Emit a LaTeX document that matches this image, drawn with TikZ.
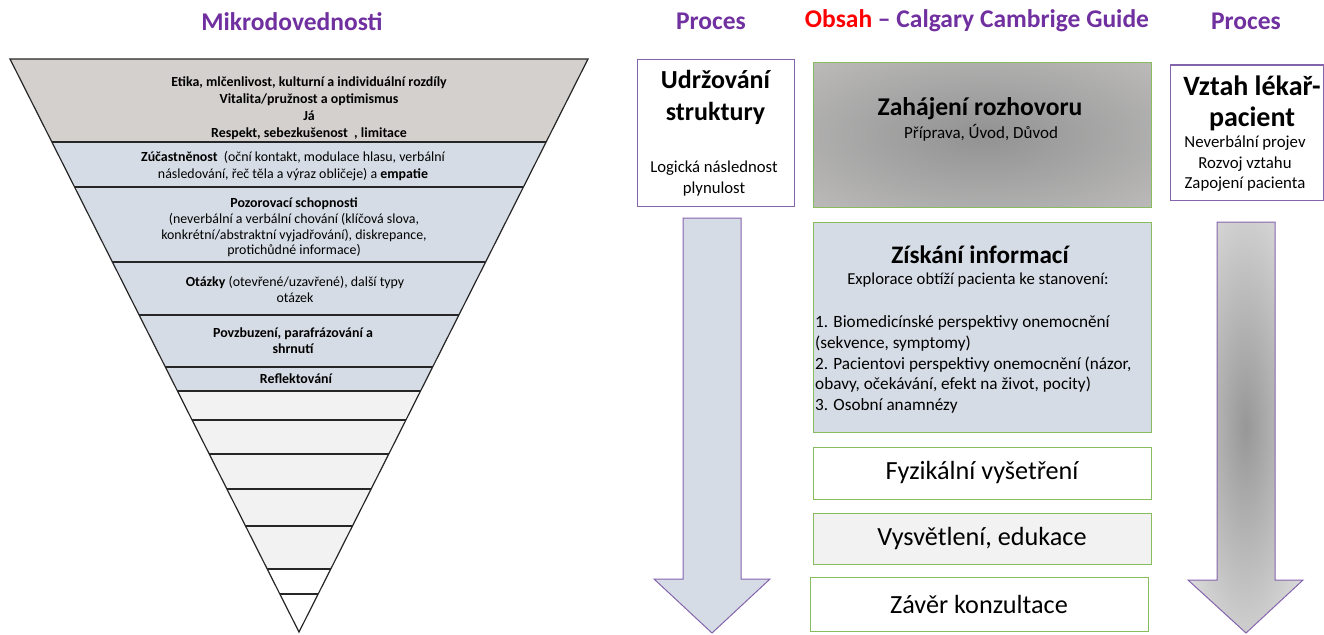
\documentclass[tikz,border=0pt]{standalone}
\usepackage{fontspec}
\setmainfont{Carlito}
\usetikzlibrary{positioning,calc}
\definecolor{headpurple}{HTML}{7030A0}
\definecolor{linepurple}{HTML}{8564AE}
\definecolor{linegreen}{HTML}{88BC5C}
\definecolor{bluegray}{HTML}{D6DCE5}
\definecolor{warmgray}{HTML}{D3D0CE}
\definecolor{lightgray}{HTML}{F2F2F2}
\definecolor{glowin}{HTML}{929292}
\definecolor{glowout}{HTML}{D2D0CF}
\definecolor{arrowin}{HTML}{979797}
\pgfdeclareradialshading{boxglow}{\pgfpoint{0bp}{0bp}}{color(0bp)=(glowin); color(55bp)=(glowout); color(80bp)=(glowout)}
\pgfdeclareradialshading{arrowglow}{\pgfpoint{0bp}{0bp}}{color(0bp)=(arrowin); color(47bp)=(white); color(80bp)=(white)}

\begin{document}
\begin{tikzpicture}[
  x=1pt, y=-1pt,
  head/.style={font=\fontsize{25.5}{30}\selectfont\bfseries, text=headpurple},
  band/.style={align=center, inner sep=0pt, font=\fontsize{13.9}{15.8}\selectfont},
  procbox/.style={draw=linepurple, line width=1pt, inner sep=0pt},
  stepbox/.style={draw=linegreen, line width=1pt, minimum width=338pt, inner sep=0pt, align=center},
  title/.style={align=center, inner sep=0pt, font=\fontsize{26}{32}\selectfont\bfseries},
  small/.style={align=center, inner sep=0pt, font=\fontsize{16.7}{21}\selectfont},
  bigtext/.style={font=\fontsize{26.2}{30}\selectfont},
  blockarrow/.style={draw=linepurple, line width=1pt, line join=miter},
  rule/.style={line width=1.2pt, draw=black!85}
]
\useasboundingbox (0,0) rectangle (1324,634);

% column headers
\node[head] (micro) at (292,22) {Mikrodovednosti};
\node[head] (proc1) at (711,21) {Proces};
\node[head] (content) at (977,21) {\textcolor{red}{Obsah} – Calgary Cambrige Guide};
\node[head] (proc2) at (1246,21) {Proces};

% funnel of micro skills
\begin{scope}
  \clip (10,59) -- (588,59) -- (299,632) -- cycle;
  \fill[warmgray] (0,59) rectangle (600,142);
  \fill[bluegray] (0,142) rectangle (600,391);
  \fill[lightgray] (0,391) rectangle (600,569);
  \foreach \y in {142,187,262,315,367,391,420,454,489,526,569,594}
    \draw[rule] (0,\y) -- (600,\y);
\end{scope}
\draw[rule, line join=miter] (10,59) -- (588,59) -- (299,632) -- cycle;

\node[band, font=\fontsize{13.9}{17}\selectfont\bfseries] (ethics) at (309,108)
  {Etika, mlčenlivost, kulturní a individuální rozdíly\\Vitalita/pružnost a optimismus\\Já\\Respekt, sebezkušenost\ \ , limitace};
\node[band, font=\fontsize{13.9}{17}\selectfont] (attend) at (293,166.5)
  {\textbf{Zúčastněnost}\ \ (oční kontakt, modulace hlasu, verbální\\následování, řeč těla a výraz obličeje) a \textbf{empatie}};
\node[band] (observe) at (294,227.5)
  {\textbf{Pozorovací schopnosti}\\(neverbální a verbální chování (klíčová slova,\\konkrétní/abstraktní vyjadřování), diskrepance,\\protichůdné informace)};
\node[band] (questions) at (295,289.5)
  {\textbf{Otázky} (otevřené/uzavřené), další typy\\otázek};
\node[band, font=\fontsize{13.9}{15.8}\selectfont\bfseries] (encourage) at (293,341)
  {Povzbuzení, parafrázování a\\shrnutí};
\node[band, font=\fontsize{13.9}{15.8}\selectfont\bfseries] (reflect) at (296,378.5) {Reflektování};

% left process column
\node[procbox, minimum width=157pt, minimum height=146pt] (structure) at (715.5,133) {};
\node[title] (structtitle) at (715.5,97) {Udržování\\struktury};
\node[small] (structsub) at (714,178.5) {Logická následnost\\plynulost};
\draw[blockarrow, fill=bluegray] (683,218) -- (741,218) -- (741,579) -- (770,579)
  -- (712,633) -- (654,579) -- (683,579) -- cycle;

% content column (Calgary Cambridge)
\node[stepbox, minimum height=144pt, shading=boxglow, shade] (opening) at (982,135) {};
\node[font=\fontsize{25.6}{30}\selectfont\bfseries, inner sep=0pt] (openingtitle) at (980,109) {Zahájení rozhovoru};
\node[small, font=\fontsize{17}{20}\selectfont] (openingsub) at (981,133) {Příprava, Úvod, Důvod};

\node[stepbox, minimum height=210pt, fill=bluegray] (gather) at (982,327) {};
\node[font=\fontsize{25.2}{30}\selectfont\bfseries, inner sep=0pt] (gathertitle) at (980,255) {Získání informací};
\node[small] (gathersub) at (978,280) {Explorace obtíží pacienta ke stanovení:};
\node[align=left, inner sep=0pt, anchor=west, font=\fontsize{17.2}{20.7}\selectfont] (gatherlist) at (815,364.5)
  {1. Biomedicínské perspektivy onemocnění\\(sekvence, symptomy)\\2. Pacientovi perspektivy onemocnění (názor,\\obavy, očekávání, efekt na život, pocity)\\3. Osobní anamnézy};

\node[stepbox, bigtext, minimum height=52pt, fill=white] (exam) at (982,473) {Fyzikální vyšetření};
\node[stepbox, bigtext, minimum height=51pt, fill=lightgray] (explain) at (982,538.5) {Vysvětlení, edukace};
\node[stepbox, bigtext, minimum height=54pt, fill=white] (closing) at (979,604) {Závěr konzultace};

% right process column
\node[procbox, minimum width=153pt, minimum height=135pt] (relation) at (1246.5,132.5) {};
\node[title, font=\fontsize{28}{30.5}\selectfont\bfseries] (relationtitle) at (1252,103.5) {Vztah lékař-\\pacient};
\node[small, font=\fontsize{16.8}{20.5}\selectfont] (relationsub) at (1245,164) {Neverbální projev\\Rozvoj vztahu\\Zapojení pacienta};
\path[blockarrow, shading=arrowglow, shade, draw=linepurple] (1217,222) -- (1275,222) -- (1275,580) -- (1303,580)
  -- (1246,633) -- (1188,580) -- (1217,580) -- cycle;
\end{tikzpicture}
\end{document}
